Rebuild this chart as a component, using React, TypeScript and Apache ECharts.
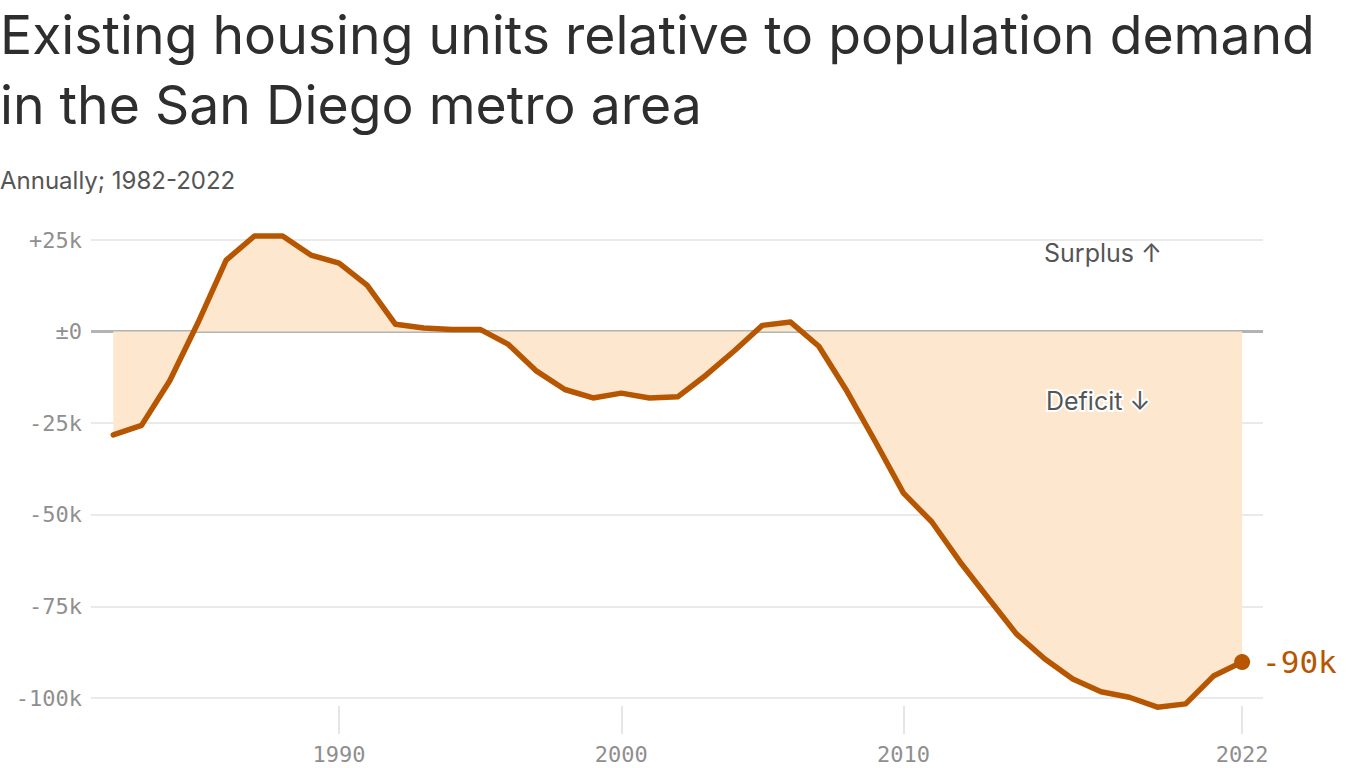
import React, { useEffect, useRef } from "react";
import * as echarts from "echarts";

const years: number[] = [
  1982, 1983, 1984, 1985, 1986, 1987, 1988, 1989, 1990, 1991, 1992, 1993, 1994, 1995,
  1996, 1997, 1998, 1999, 2000, 2001, 2002, 2003, 2004, 2005, 2006, 2007, 2008, 2009,
  2010, 2011, 2012, 2013, 2014, 2015, 2016, 2017, 2018, 2019, 2020, 2021, 2022,
];
// thousands of housing units (surplus + / deficit -)
const balance: number[] = [
  -28.2, -25.6, -13.4, 2.4, 19.5, 26.1, 26.1, 20.9, 18.7, 12.6, 2.0, 1.0, 0.6, 0.6,
  -3.5, -10.8, -15.8, -18.1, -16.8, -18.1, -17.8, -11.9, -5.3, 1.7, 2.6, -4.0, -16.3, -30.0,
  -44.1, -51.9, -62.8, -72.7, -82.5, -89.3, -94.8, -98.3, -99.8, -102.5, -101.6, -93.9, -90.2,
];
const yTicks: number[] = [-100, -75, -50, -25, 0, 25];
const yTickLabels: string[] = ["-100k", "-75k", "-50k", "-25k", "±0", "+25k"];
const xTicks: number[] = [1990, 2000, 2010, 2022];
const endLabel = "-90k";

const title1 = "Existing housing units relative to population demand";
const title2 = "in the San Diego metro area";
const subtitle = "Annually; 1982-2022";

const LINE = "#b75600";
const FILL = "#fee7cf";
const MONO = "'DejaVu Sans Mono', monospace";
const SANS = "Inter, 'Noto Sans', sans-serif";

export default function App() {
  const ref = useRef<HTMLDivElement>(null);
  useEffect(() => {
    if (!ref.current) return;
    const chart = echarts.init(ref.current, null, { renderer: "svg" });
    const data = years.map((y, i) => [y, balance[i]]);
    const last = data[data.length - 1];
    chart.setOption({
      animation: false,
      grid: { left: 91, right: 103, top: 240, bottom: 70 },
      xAxis: {
        type: "value",
        min: 1981.21,
        max: 2022.74,
        offset: 8,
        axisLine: { show: false, onZero: false },
        splitLine: { show: false },
        axisTick: {
          show: true,
          customValues: xTicks,
          length: 28,
          lineStyle: { color: "#dddddd", width: 1.5 },
        },
        axisLabel: {
          customValues: xTicks,
          margin: 37,
          fontFamily: MONO,
          fontSize: 22,
          color: "#8f8f8f",
          formatter: (v: number) => String(v),
        },
      },
      yAxis: {
        type: "value",
        min: -100,
        max: 25,
        interval: 25,
        axisLine: { show: false },
        axisTick: { show: false },
        splitLine: { lineStyle: { color: "#e3e3e3", width: 1.5 } },
        axisLabel: {
          margin: 9,
          fontFamily: MONO,
          fontSize: 22,
          color: "#8f8f8f",
          formatter: (v: number) => {
            const i = yTicks.indexOf(v);
            return i >= 0 ? yTickLabels[i] : "";
          },
        },
      },
      series: [
        {
          type: "line",
          data,
          clip: false,
          symbol: "none",
          lineStyle: { color: LINE, width: 5.5, join: "round", cap: "round" },
          areaStyle: { color: FILL, opacity: 1, origin: 0 },
          z: 3,
          markLine: {
            silent: true,
            symbol: "none",
            label: { show: false },
            lineStyle: { color: "#b3b3b3", width: 3, type: "solid" },
            data: [{ yAxis: 0 }],
            z: 2,
          },
        },
        {
          type: "scatter",
          data: [last],
          clip: false,
          symbol: "circle",
          symbolSize: 16,
          itemStyle: { color: LINE, opacity: 1 },
          label: {
            show: true,
            position: "right",
            distance: 12,
            formatter: () => endLabel,
            fontFamily: MONO,
            fontSize: 31,
            color: LINE,
          },
          z: 5,
        },
      ],
      graphic: [
        {
          type: "text",
          left: 0,
          top: 7,
          style: { text: title1, font: `400 53.5px ${SANS}`, fill: "#2e2e2e" },
        },
        {
          type: "text",
          left: 0,
          top: 77,
          style: { text: title2, font: `400 53.5px ${SANS}`, fill: "#2e2e2e" },
        },
        {
          type: "text",
          left: 0,
          top: 168,
          style: { text: subtitle, font: `400 24px ${SANS}`, fill: "#555555" },
        },
        {
          type: "text",
          left: 1044,
          top: 240,
          style: { text: "Surplus ↑", font: `400 25px ${SANS}`, fill: "#555555" },
          z: 10,
        },
        {
          type: "text",
          left: 1044,
          top: 386,
          style: {
            text: "Deficit ↓",
            font: `400 25px ${SANS}`,
            fill: "#555555",
            stroke: "#ffffff",
            lineWidth: 4,
          },
          z: 10,
        },
      ],
    });
    return () => chart.dispose();
  }, []);
  return (
    <div
      ref={ref}
      style={{ position: "fixed", left: 0, top: 0, width: 1366, height: 768, background: "#fff" }}
    />
  );
}
